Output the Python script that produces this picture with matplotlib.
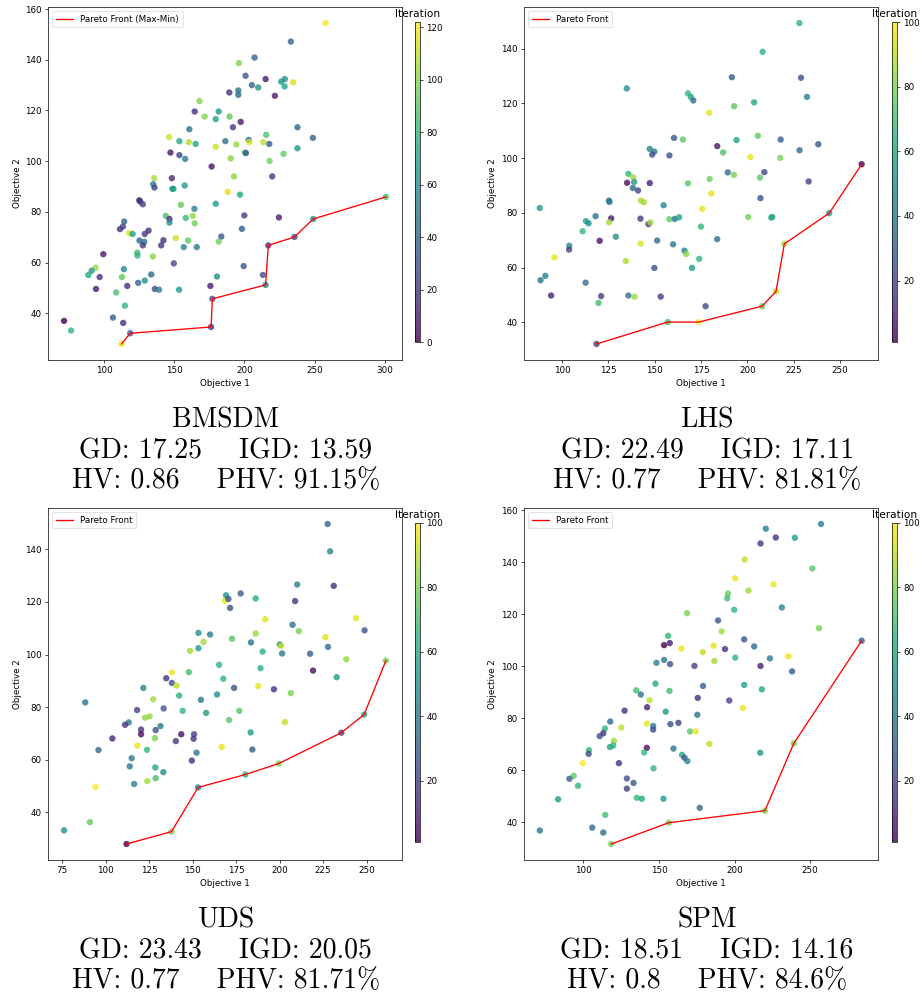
import matplotlib
matplotlib.use("Agg")
import matplotlib.pyplot as plt

# --- data ---
methods = ["BMSDM", "LHS", "UDS", "SPM"]
gd = [17.25, 22.49, 23.43, 18.51]
igd = [13.59, 17.11, 20.05, 14.16]
hv = [0.86, 0.77, 0.77, 0.8]
phv = [91.15, 81.81, 81.71, 84.6]
front_labels = ["Pareto Front (Max-Min)", "Pareto Front", "Pareto Front", "Pareto Front"]

bmsdm_x = [257.8, 233.1, 207.2, 196.1, 200.8, 215.1, 226.2, 228.8, 234.8, 205.3,
           209.8, 228.6, 195.6, 195.6, 189.2, 221.7, 167.9, 164.5, 181.6, 171.6,
           179.5, 189.4, 197.3, 191.8, 237.8, 160.7, 146.3, 248.8, 153.6, 160.3,
           165.2, 186.4, 179.5, 194.2, 203.0, 203.4, 213.4, 215.5, 217.7, 200.4,
           201.1, 147.2, 153.6, 157.7, 176.6, 190.2, 217.9, 227.9, 237.8, 192.5,
           219.8, 135.6, 134.9, 135.8, 148.2, 148.6, 149.3, 157.4, 188.0, 196.8,
           124.9, 125.6, 127.5, 154.6, 179.5, 164.3, 143.9, 146.5, 146.5, 158.1,
           163.1, 164.5, 199.9, 224.6, 114.2, 111.2, 113.3, 117.8, 120.2, 128.9,
           131.6, 125.1, 128.5, 127.5, 142.2, 140.6, 151.0, 159.8, 156.7, 166.0,
           181.6, 183.5, 198.2, 99.3, 123.5, 123.7, 134.6, 93.8, 91.0, 88.6,
           96.7, 94.1, 114.0, 112.6, 116.4, 124.2, 128.9, 133.5, 108.5, 136.1,
           139.1, 149.6, 153.4, 114.7, 106.2, 113.5, 71.3, 76.3, 112.3, 118.5,
           176.2, 177.1, 175.7, 180.4, 199.4, 213.2, 215.1, 217.0, 235.7, 249.0,
           300.9]
bmsdm_y = [154.5, 147.2, 140.9, 138.7, 133.7, 132.4, 131.4, 132.4, 131.1, 130.0,
           129.1, 129.5, 127.9, 126.2, 127.1, 125.8, 123.7, 119.6, 119.6, 117.6,
           116.6, 117.6, 115.5, 113.4, 113.4, 112.6, 109.5, 109.2, 107.9, 107.5,
           106.8, 107.9, 105.7, 106.6, 108.4, 107.5, 107.5, 110.4, 106.8, 103.4,
           103.2, 103.4, 102.4, 100.9, 97.9, 101.1, 100.1, 102.9, 105.1, 94.0,
           94.0, 93.3, 90.9, 89.6, 93.3, 89.1, 89.1, 90.4, 87.9, 86.8,
           84.6, 84.1, 83.0, 82.8, 83.2, 81.2, 78.4, 77.2, 75.8, 77.6,
           78.4, 75.5, 78.6, 77.8, 76.2, 73.2, 74.2, 71.6, 71.3, 71.3,
           72.6, 68.7, 68.2, 66.8, 68.8, 66.8, 69.7, 68.7, 66.1, 66.1,
           68.3, 70.3, 73.3, 63.3, 63.9, 62.8, 62.4, 58.0, 56.8, 55.1,
           54.3, 49.6, 57.4, 54.3, 50.8, 52.0, 52.9, 55.3, 48.2, 49.6,
           49.3, 59.7, 49.3, 43.0, 38.3, 36.2, 37.0, 33.2, 27.9, 32.1,
           34.6, 45.7, 50.8, 54.5, 58.6, 55.1, 51.2, 66.8, 70.1, 77.2,
           85.9]
bmsdm_iter = [122, 38, 38, 98, 32, 8, 65, 60, 115, 38,
              66, 72, 48, 42, 16, 10, 100, 15, 64, 100,
              70, 92, 8, 20, 40, 45, 112, 40, 72, 108,
              72, 45, 112, 104, 45, 116, 110, 88, 35, 82,
              35, 8, 25, 50, 8, 100, 96, 92, 66, 100,
              20, 106, 50, 25, 14, 72, 66, 66, 116, 72,
              20, 14, 25, 92, 66, 52, 86, 14, 60, 82,
              102, 96, 22, 10, 40, 18, 25, 116, 70, 20,
              15, 40, 46, 20, 15, 20, 112, 92, 56, 52,
              96, 35, 35, 8, 84, 80, 100, 102, 66, 76,
              15, 8, 56, 92, 15, 40, 62, 40, 86, 25,
              50, 25, 66, 80, 35, 15, 0, 80, 120, 35,
              20, 30, 10, 62, 30, 30, 55, 20, 30, 62,
              86]
bmsdm_front_x = [112.3, 118.5, 176.2, 177.1, 215.1, 217.0, 235.7, 249.0, 300.9]
bmsdm_front_y = [27.9, 32.1, 34.6, 45.7, 51.2, 66.8, 70.1, 77.2, 85.9]

lhs_x = [228.0, 208.2, 191.6, 228.9, 134.9, 167.9, 169.5, 170.8, 232.1, 203.6,
         192.8, 179.4, 160.4, 165.2, 205.6, 194.1, 217.9, 238.2, 183.7, 147.3,
         149.8, 148.6, 157.9, 186.9, 201.6, 217.7, 228.1, 189.4, 192.7, 209.1,
         206.8, 233.0, 179.6, 167.9, 135.8, 138.4, 135.1, 138.9, 138.2, 141.0,
         147.3, 180.5, 207.0, 125.3, 125.6, 142.5, 144.1, 154.8, 175.6, 88.0,
         112.9, 114.3, 118.1, 126.5, 125.4, 142.3, 146.6, 147.7, 157.9, 160.8,
         163.1, 174.9, 200.4, 212.9, 213.4, 111.1, 103.9, 103.8, 120.3, 129.0,
         151.3, 142.3, 159.9, 183.7, 166.0, 167.0, 174.0, 170.1, 95.9, 134.4,
         149.8, 88.4, 91.0, 112.7, 94.1, 121.1, 119.7, 135.8, 139.1, 153.2,
         177.4, 157.0, 173.7, 118.6, 207.9, 215.4, 219.9, 244.1, 261.6]
lhs_y = [149.4, 138.9, 129.6, 129.4, 125.5, 123.7, 122.4, 121.1, 122.4, 120.4,
         119.0, 116.6, 107.4, 106.8, 108.2, 106.6, 106.8, 105.1, 104.4, 103.4,
         102.4, 101.3, 101.0, 102.1, 100.4, 100.1, 102.9, 94.8, 93.9, 94.9,
         92.9, 91.5, 92.4, 90.8, 94.3, 93.0, 91.0, 91.3, 89.1, 88.2,
         90.9, 87.1, 85.4, 84.5, 84.0, 84.5, 83.9, 82.8, 81.5, 81.8,
         77.0, 76.2, 78.8, 78.0, 76.6, 77.9, 75.9, 76.5, 77.7, 77.8,
         78.4, 75.0, 78.5, 78.3, 78.5, 73.3, 68.0, 66.6, 69.8, 71.3,
         69.9, 68.8, 68.5, 70.4, 66.2, 65.0, 63.2, 59.9, 63.7, 62.4,
         59.9, 55.4, 57.0, 54.5, 49.8, 49.6, 47.1, 49.8, 49.4, 49.4,
         45.9, 40.1, 40.1, 32.1, 45.9, 51.3, 68.7, 79.9, 97.8]
lhs_iter = [65, 65, 30, 25, 48, 66, 60, 38, 45, 60,
            75, 96, 28, 75, 76, 58, 30, 25, 8, 45,
            40, 25, 25, 72, 97, 80, 35, 35, 80, 20,
            74, 20, 78, 74, 66, 86, 5, 55, 35, 22,
            10, 96, 25, 35, 40, 88, 86, 45, 96, 55,
            56, 50, 40, 8, 86, 18, 18, 86, 76, 40,
            60, 66, 80, 60, 62, 66, 50, 20, 5, 50,
            35, 95, 40, 35, 45, 82, 66, 55, 97, 88,
            28, 40, 45, 35, 10, 20, 70, 40, 86, 18,
            22, 70, 100, 18, 76, 90, 86, 55, 1]
lhs_front_x = [118.6, 157.0, 173.7, 207.9, 215.4, 219.9, 244.1, 261.6]
lhs_front_y = [32.1, 40.1, 40.1, 45.9, 51.3, 68.7, 79.9, 97.8]

uds_x = [227.6, 229.0, 210.1, 231.1, 169.2, 168.4, 170.5, 171.5, 177.6, 186.2,
         208.9, 191.7, 243.9, 248.8, 207.4, 211.0, 153.3, 160.0, 156.2, 172.6,
         186.2, 183.5, 200.1, 200.8, 201.4, 217.5, 227.8, 226.3, 153.3, 148.4,
         190.2, 238.3, 219.2, 232.8, 189.0, 165.2, 147.8, 138.0, 134.8, 138.0,
         140.7, 167.6, 173.8, 187.7, 196.7, 206.4, 121.6, 127.3, 142.2, 154.7,
         164.0, 88.2, 118.0, 133.3, 122.6, 125.2, 113.2, 111.1, 120.3, 120.3,
         128.7, 131.5, 144.2, 157.7, 176.8, 170.9, 203.0, 103.8, 128.3, 140.3,
         143.4, 150.8, 150.5, 183.3, 184.3, 95.8, 118.2, 123.7, 166.7, 152.2,
         149.5, 114.9, 113.8, 128.5, 133.1, 128.7, 123.9, 116.3, 94.1, 90.9,
         76.0, 111.9, 137.8, 153.1, 180.3, 199.5, 235.5, 248.6, 261.1]
uds_y = [149.6, 139.2, 126.6, 126.1, 122.5, 120.4, 121.1, 117.7, 123.2, 121.3,
         120.3, 113.4, 113.8, 109.2, 111.3, 108.9, 108.2, 107.6, 104.8, 106.0,
         108.0, 104.6, 103.8, 103.3, 100.4, 100.3, 102.9, 106.6, 102.4, 101.4,
         101.1, 98.2, 93.9, 91.4, 94.8, 96.1, 93.3, 93.2, 91.0, 89.2,
         88.2, 90.8, 87.3, 88.0, 86.8, 85.3, 87.3, 83.0, 84.4, 82.8,
         84.8, 81.8, 78.9, 79.5, 76.0, 76.5, 74.2, 73.3, 71.5, 69.7,
         71.3, 72.8, 78.6, 77.8, 78.6, 75.1, 74.3, 68.1, 68.2, 67.1,
         69.7, 69.7, 68.0, 70.4, 63.9, 63.7, 65.4, 63.8, 64.9, 62.7,
         59.7, 60.6, 57.5, 57.1, 55.3, 53.0, 51.9, 50.8, 49.7, 36.3,
         33.2, 28.0, 32.7, 49.5, 54.4, 58.6, 70.3, 77.2, 97.7]
uds_iter = [35, 45, 45, 14, 52, 97, 25, 25, 30, 62,
            15, 95, 95, 28, 38, 80, 50, 42, 86, 74,
            84, 38, 50, 90, 42, 30, 35, 95, 55, 86,
            64, 84, 5, 55, 64, 66, 70, 97, 15, 25,
            90, 66, 25, 96, 14, 80, 45, 86, 64, 40,
            52, 40, 20, 25, 84, 84, 42, 15, 15, 5,
            25, 42, 66, 55, 74, 74, 90, 10, 80, 15,
            5, 20, 15, 55, 30, 35, 97, 66, 97, 40,
            15, 40, 40, 60, 50, 70, 86, 45, 100, 76,
            50, 1, 80, 45, 65, 80, 20, 58, 80]
uds_front_x = [111.9, 137.8, 153.1, 180.3, 199.5, 235.5, 248.6, 261.1]
uds_front_y = [28.0, 32.7, 49.5, 54.4, 58.6, 70.3, 77.2, 97.7]

spm_x = [220.7, 227.3, 217.2, 257.2, 239.9, 206.7, 200.5, 225.8, 251.5, 195.7,
         195.2, 209.3, 199.8, 231.3, 168.6, 189.1, 255.9, 191.5, 156.1, 153.4,
         157.2, 164.9, 186.2, 179.0, 186.7, 193.7, 206.4, 213.0, 223.4, 235.7,
         238.1, 217.2, 200.5, 173.5, 153.4, 157.4, 148.4, 147.7, 135.0, 138.0,
         157.0, 179.2, 206.4, 218.1, 175.7, 196.5, 205.6, 143.8, 127.3, 142.2,
         154.5, 175.4, 117.8, 114.3, 113.2, 110.8, 125.1, 142.0, 146.2, 146.2,
         157.6, 162.9, 170.6, 174.3, 183.4, 103.7, 103.5, 120.2, 119.8, 117.6,
         142.0, 140.2, 159.6, 165.3, 166.9, 168.8, 217.0, 99.6, 123.5, 146.4,
         93.6, 90.8, 96.5, 128.8, 133.2, 128.8, 83.3, 135.4, 138.7, 153.0,
         177.0, 114.5, 71.2, 105.9, 113.2, 118.5, 156.5, 220.1, 239.2, 284.1]
spm_y = [153.0, 149.6, 147.3, 154.8, 149.5, 141.1, 133.9, 131.6, 137.7, 128.0,
         126.2, 129.2, 121.8, 122.7, 120.5, 117.7, 114.7, 113.5, 111.8, 108.2,
         109.0, 106.9, 108.0, 105.5, 102.1, 106.7, 110.4, 107.7, 103.1, 103.9,
         98.1, 100.2, 103.4, 100.2, 102.5, 100.9, 101.4, 93.4, 90.8, 89.2,
         90.6, 92.5, 92.9, 91.2, 87.9, 86.9, 84.0, 87.0, 83.0, 84.3,
         82.6, 81.4, 78.8, 76.1, 74.3, 73.2, 76.5, 78.0, 77.1, 75.7,
         77.8, 78.3, 75.0, 75.0, 70.2, 67.8, 66.4, 71.4, 69.6, 69.0,
         68.7, 66.9, 68.4, 66.0, 64.9, 63.6, 66.8, 62.8, 62.8, 60.8,
         57.9, 56.8, 54.1, 56.9, 55.2, 53.0, 48.9, 49.5, 49.1, 49.1,
         45.6, 42.9, 36.9, 38.0, 36.1, 31.7, 39.9, 44.5, 70.4, 109.9]
spm_iter = [45, 15, 15, 45, 55, 90, 97, 97, 74, 76,
            70, 86, 66, 45, 80, 28, 80, 86, 66, 1,
            10, 97, 96, 90, 86, 15, 25, 35, 42, 97,
            30, 10, 66, 20, 40, 25, 45, 60, 70, 40,
            70, 30, 58, 60, 15, 20, 97, 90, 15, 10,
            55, 40, 35, 66, 15, 25, 90, 97, 42, 25,
            25, 20, 74, 97, 90, 66, 25, 86, 66, 60,
            5, 66, 40, 60, 25, 45, 55, 100, 15, 66,
            76, 30, 66, 25, 30, 20, 55, 66, 60, 55,
            35, 70, 40, 35, 35, 80, 80, 80, 80, 30]
spm_front_x = [118.5, 156.5, 220.1, 239.2, 284.1]
spm_front_y = [31.7, 39.9, 44.5, 70.4, 109.9]

panels = [
    (bmsdm_x, bmsdm_y, bmsdm_iter, bmsdm_front_x, bmsdm_front_y),
    (lhs_x, lhs_y, lhs_iter, lhs_front_x, lhs_front_y),
    (uds_x, uds_y, uds_iter, uds_front_x, uds_front_y),
    (spm_x, spm_y, spm_iter, spm_front_x, spm_front_y),
]

# axes / colorbar boxes in figure fractions [left, bottom, width, height]
ax_boxes = [[0.052, 0.640, 0.384, 0.353], [0.568, 0.640, 0.384, 0.353],
            [0.052, 0.140, 0.384, 0.352], [0.568, 0.140, 0.384, 0.352]]
cb_boxes = [[0.450, 0.658, 0.0056, 0.320], [0.9675, 0.658, 0.0056, 0.320],
            [0.450, 0.158, 0.0056, 0.319], [0.9675, 0.158, 0.0056, 0.319]]
cap_pos = [(0.245, 0.549), (0.767, 0.549), (0.245, 0.049), (0.767, 0.049)]

FS = 6.3

fig = plt.figure(figsize=(9.22, 10), dpi=100)

for i, (x, y, it, fx, fy) in enumerate(panels):
    ax = fig.add_axes(ax_boxes[i])
    sc = ax.scatter(x, y, c=it, cmap='viridis', s=21, alpha=0.8, linewidths=0)
    ax.plot(fx, fy, color='red', lw=0.95, label=front_labels[i])
    ax.set_xlabel('Objective 1', fontsize=FS, labelpad=2.5)
    ax.set_ylabel('Objective 2', fontsize=FS, labelpad=2.5)
    ax.tick_params(labelsize=FS, length=2.2, width=0.5, pad=2.2)
    for sp in ax.spines.values():
        sp.set_linewidth(0.5)
    leg = ax.legend(loc='upper left', fontsize=FS, borderpad=0.4, handlelength=2.0)
    leg.get_frame().set_linewidth(0.5)

    cax = fig.add_axes(cb_boxes[i])
    cb = fig.colorbar(sc, cax=cax)
    cb.outline.set_linewidth(0.5)
    cax.tick_params(labelsize=FS, length=2.2, width=0.5, pad=2.2)
    cax.set_title('Iteration', fontsize=7.6, pad=3.8)

    cap = (f"{methods[i]}\n"
           f"GD: {gd[i]}    IGD: {igd[i]}\n"
           f"HV: {hv[i]}    PHV: {phv[i]}%")
    fig.text(cap_pos[i][0], cap_pos[i][1], cap, ha='center', va='center',
             fontsize=20, family='cmr10')

plt.savefig('out.png', dpi=100)
plt.close()
